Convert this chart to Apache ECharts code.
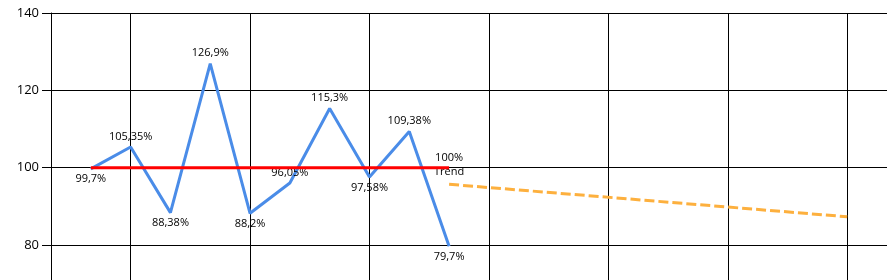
<!DOCTYPE html>
<html>
<head>
<meta charset="utf-8">
<script src="https://cdn.jsdelivr.net/npm/echarts@6/dist/echarts.min.js"></script>
<style>
html,body{margin:0;padding:0;background:#fff;}
#chart{width:890px;height:280px;}
</style>
</head>
<body>
<div id="chart"></div>
<script>
// x positions (category slots); gridlines every 3rd slot starting at 2
var categories = ['0','1','2','3','4','5','6','7','8','9','10','11','12','13','14','15','16','17','18','19','20','21'];
// measured values (%), slot 1..10
var actualValues = [null, 99.7, 105.35, 88.38, 126.9, 88.2, 96.05, 115.3, 97.58, 109.38, 79.7];
// target line at 100% from slot 1 to slot 10
var targetValues = [null, 100, 100, 100, 100, 100, 100, 100, 100, 100, 100];
// trend line from slot 10 to slot 20
var trendValues = [null, null, null, null, null, null, null, null, null, null, 95.7, null, null, null, null, null, null, null, null, null, 87.3];
var yTicks = [80, 100, 120, 140];
var targetLabel = '100%';
var trendLabel = 'Trend';

function fmt(v){ return String(v).replace('.', ',') + '%'; }

var actualData = actualValues.map(function(v, i){
  if (v == null) return null;
  var prev = actualValues[i-1], next = actualValues[i+1];
  var isMin = (prev == null || v < prev) && (next == null || v < next);
  return { value: v, label: { position: isMin ? 'bottom' : 'top' } };
});
var lastTargetIdx = targetValues.length - 1;
var targetData = targetValues.map(function(v, i){
  if (v == null) return null;
  if (i === lastTargetIdx) return { value: v, label: { show: true, position: 'top', formatter: targetLabel, distance: 4 } };
  return v;
});
var firstTrendIdx = trendValues.findIndex(function(v){ return v != null; });
var trendData = trendValues.map(function(v, i){
  if (v == null) return null;
  if (i === firstTrendIdx) return { value: v, label: { show: true, position: 'top', formatter: trendLabel, distance: 7 } };
  return v;
});

var font = "'Open Sans', sans-serif";
var splitX = {
  show: true,
  interval: function(index){ return index % 3 === 2; },
  lineStyle: { color: '#000', width: 1 }
};
var chart = echarts.init(document.getElementById('chart'), null, {renderer: 'canvas'});
chart.setOption({
  animation: false,
  backgroundColor: '#fff',
  grid: [
    { left: 51, right: 3, top: 13, bottom: 35, containLabel: false },
    { left: 51, right: 3, top: 245, bottom: 0, containLabel: false }
  ],
  xAxis: [
    {
      type: 'category', gridIndex: 0, data: categories, boundaryGap: false,
      axisLine: { show: false }, axisTick: { show: false }, axisLabel: { show: false },
      splitLine: splitX
    },
    {
      type: 'category', gridIndex: 1, data: categories, boundaryGap: false,
      axisLine: { show: false }, axisTick: { show: false }, axisLabel: { show: false },
      splitLine: splitX
    }
  ],
  yAxis: [
    {
      type: 'value', gridIndex: 0,
      min: yTicks[0],
      max: yTicks[yTicks.length - 1],
      interval: yTicks[1] - yTicks[0],
      axisLine: { show: true, lineStyle: { color: '#000', width: 1 } },
      axisTick: { show: true, length: 9, lineStyle: { color: '#000', width: 1 } },
      axisLabel: { color: '#000', fontSize: 13, fontFamily: font, margin: 12 },
      splitLine: { show: true, lineStyle: { color: '#000', width: 1 } }
    },
    {
      type: 'value', gridIndex: 1, min: 0, max: 1,
      axisLine: { show: true, lineStyle: { color: '#000', width: 1 } },
      axisTick: { show: false }, axisLabel: { show: false },
      splitLine: { show: false }
    }
  ],
  series: [
    {
      name: 'Actual',
      type: 'line',
      data: actualData,
      clip: false,
      symbol: 'circle',
      symbolSize: 0,
      showSymbol: true,
      lineStyle: { color: '#4A8CE8', width: 3 },
      itemStyle: { color: '#4A8CE8' },
      label: { show: true, color: '#000', fontSize: 11, fontFamily: font, distance: 5,
        formatter: function(p){ return fmt(p.value); } },
      z: 3
    },
    {
      name: 'Target',
      type: 'line',
      data: targetData,
      symbol: 'circle',
      symbolSize: 0,
      showSymbol: true,
      lineStyle: { color: '#FF0000', width: 3 },
      itemStyle: { color: '#FF0000' },
      label: { show: false, color: '#000', fontSize: 11, fontFamily: font },
      z: 4
    },
    {
      name: 'Trend',
      type: 'line',
      data: trendData,
      connectNulls: true,
      symbol: 'circle',
      symbolSize: 0,
      showSymbol: true,
      lineStyle: { color: '#FDB03E', width: 3, type: [10, 4] },
      itemStyle: { color: '#FDB03E' },
      label: { show: false, color: '#000', fontSize: 11, fontFamily: font },
      z: 2
    }
  ]
});
</script>
</body>
</html>
